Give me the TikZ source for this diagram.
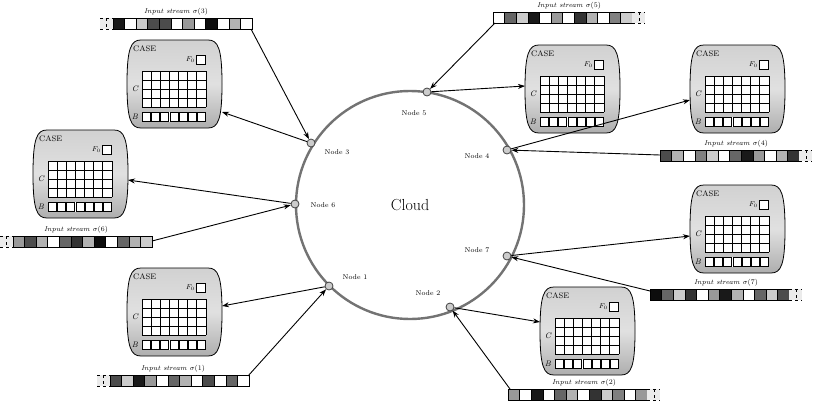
\documentclass[tikz,border=0pt]{standalone}
\usetikzlibrary{arrows.meta}
\begin{document}
\begin{tikzpicture}[x=1pt,y=-1pt,
  conn/.style={-{Stealth[length=7pt,width=5pt]},line width=0.9pt},
  nd/.style={circle,draw=black!75,fill=black!20,line width=0.8pt,inner sep=0pt,minimum size=8pt},
  lbl/.style={font=\fontsize{7}{8}\selectfont},
  slbl/.style={font=\fontsize{7}{8}\selectfont\itshape},
  cell/.style={draw=black,line width=0.6pt}]
\useasboundingbox (0,0) rectangle (813,402);
\newcommand\casebox[3]{%
 \begin{scope}[shift={(#1,#2)}]
  \shade[top color=black!18,bottom color=black!32,middle color=black!12,draw=black,line width=0.8pt]
   (14,0) -- (81,0) .. controls (91,0) and (95,8) .. (95,44) .. controls (95,80) and (91,88) .. (81,88)
   -- (14,88) .. controls (4,88) and (0,80) .. (0,44) .. controls (0,8) and (4,0) .. (14,0);
  \node[anchor=west,inner sep=0pt,font=\fontsize{8}{9}\selectfont] (#3t) at (6,9) {CASE};
  \node[anchor=east,inner sep=0pt,font=\fontsize{7}{8}\selectfont\itshape] (#3f) at (68,20) {$F_0$};
  \draw[fill=white,line width=0.8pt] (69,15) rectangle (78,24);
  \fill[white] (15,31) rectangle (79,67);
  \foreach \i in {0,...,7} \draw[line width=0.9pt] (15+\i*9.14,31) -- (15+\i*9.14,67);
  \foreach \j in {0,...,4} \draw[line width=0.9pt] (15,31+\j*9) -- (79,31+\j*9);
  \fill[white] (15,72) rectangle (79,82);
  \foreach \i in {0,...,6} \draw[line width=0.8pt] (15.6+\i*9.14,72.5) rectangle (23.6+\i*9.14,81.5);
  \node[inner sep=0pt,font=\fontsize{8}{9}\selectfont\itshape] (#3c) at (8,49) {C};
  \node[inner sep=0pt,font=\fontsize{8}{9}\selectfont\itshape] (#3b) at (8,77) {B};
 \end{scope}}
% stream: x0, y0, dashed side (L/R), colour list, name, label
\newcommand\stream[6]{%
 \begin{scope}[shift={(#1,#2)}]
  \if#3L
   \fill[black!8] (0,0) rectangle (12.8,11);
   \draw[dashed,line width=0.5pt] (0,0) -- (12.8,0) (0,11) -- (12.8,11) (6,0) -- (6,11);
   \foreach \c [count=\i] in {#4} \draw[cell,fill=black!\c] (12.8+\i*11.6-11.6,0) rectangle ++(11.6,11);
  \else
   \foreach \c [count=\i] in {#4} \draw[cell,fill=black!\c] (\i*11.6-11.6,0) rectangle ++(11.6,11);
   \fill[black!8] (139.2,0) rectangle (152,11);
   \draw[dashed,line width=0.5pt] (139.2,0) -- (152,0) (139.2,11) -- (152,11) (146,0) -- (146,11);
  \fi
  \node[slbl,inner sep=0pt] (#5l) at (76,-6) {#6};
 \end{scope}}
% cloud
\draw[black!55,line width=2.4pt] (410,205) circle [radius=114pt];
\node[font=\fontsize{16}{18}\selectfont] (cloud) at (410,205) {Cloud};
% nodes
\node[nd] (n5) at (427,92) {};
\node[nd] (n3) at (311,143) {};
\node[nd] (n4) at (507,150) {};
\node[nd] (n6) at (295,204) {};
\node[nd] (n7) at (507,256) {};
\node[nd] (n1) at (329,286) {};
\node[nd] (n2) at (450,307) {};
\node[lbl] (l5) at (414,113) {Node 5};
\node[lbl] (l3) at (337,152) {Node 3};
\node[lbl] (l4) at (477,156) {Node 4};
\node[lbl] (l6) at (323,205) {Node 6};
\node[lbl] (l7) at (477,250) {Node 7};
\node[lbl] (l1) at (355,277) {Node 1};
\node[lbl] (l2) at (428,293) {Node 2};
% cases
\casebox{127}{40}{ca3}
\casebox{33}{130}{ca6}
\casebox{127}{268}{ca1}
\casebox{525}{45}{ca5}
\casebox{690}{45}{ca4}
\casebox{690}{185}{ca7}
\casebox{540}{287}{ca2}
\coordinate (e3) at (222,112);
\coordinate (e6) at (128,180);
\coordinate (e1) at (222,306);
\coordinate (e5) at (525,86);
\coordinate (e4) at (690,100);
\coordinate (e7) at (690,236);
\coordinate (e2) at (540,322);
% streams
\stream{100}{18}{L}{90,0,20,70,70,0,40,0,95,0,30,0}{s3}{Input stream $\sigma(3)$}
\stream{493}{12}{R}{0,60,20,90,0,40,0,80,30,0,50,20}{s5}{Input stream $\sigma(5)$}
\stream{660}{150}{R}{70,30,0,50,20,0,60,90,40,0,30,80}{s4}{Input stream $\sigma(4)$}
\stream{0}{236}{L}{40,70,30,0,60,80,30,95,0,60,30,20}{s6}{Input stream $\sigma(6)$}
\stream{650}{289}{R}{95,60,20,80,0,40,90,30,0,60,20,70}{s7}{Input stream $\sigma(7)$}
\stream{97}{375}{L}{70,20,90,40,0,60,30,0,70,0,60,0}{s1}{Input stream $\sigma(1)$}
\stream{508}{389}{R}{40,0,90,0,60,30,0,80,20,50,0,40}{s2}{Input stream $\sigma(2)$}
\coordinate (a3) at (251,29);
\coordinate (a5) at (495,23);
\coordinate (a4) at (660,155);
\coordinate (a6) at (152,241);
\coordinate (a7) at (650,291);
\coordinate (a1) at (248,376);
\coordinate (a2) at (510,389);
% connectors
\foreach \k in {3,6,1,5,4,7,2}{
  \draw[conn] (n\k) -- (e\k);
  \draw[conn] (a\k) -- (n\k);
}
\end{tikzpicture}
\end{document}
